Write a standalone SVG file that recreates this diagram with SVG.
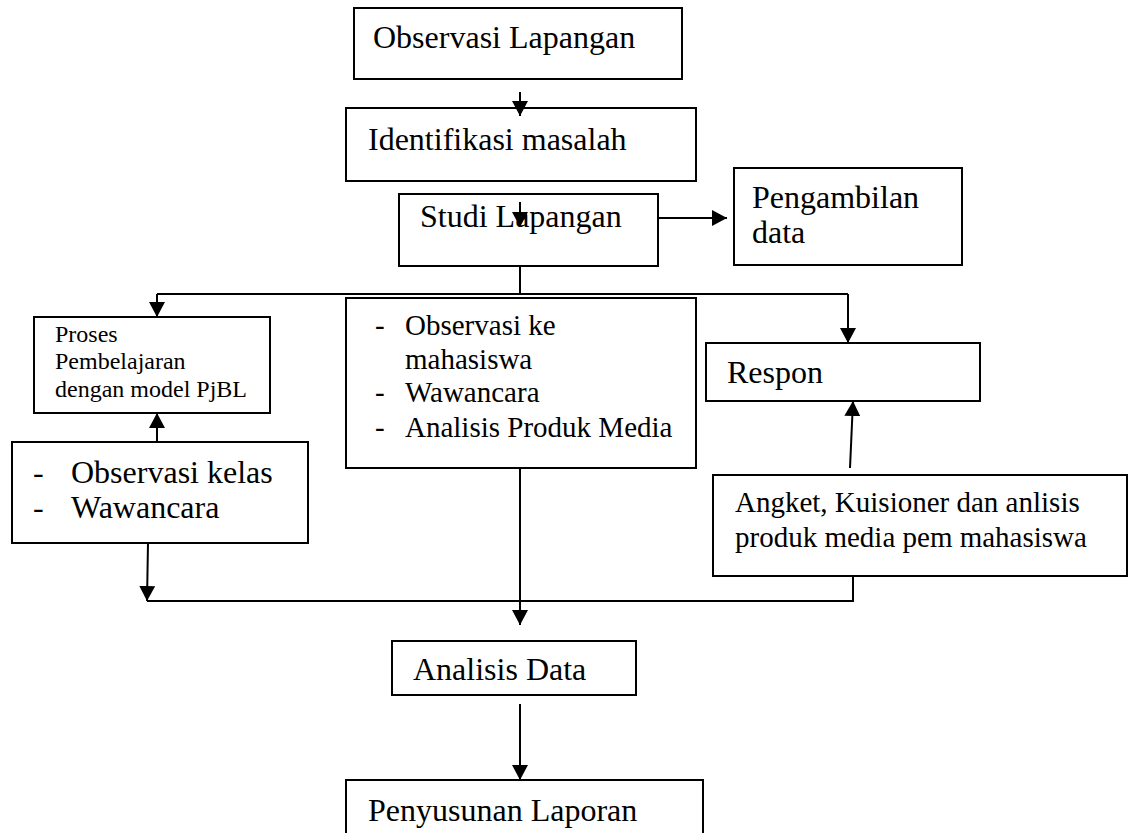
<svg xmlns="http://www.w3.org/2000/svg" width="1132" height="833" viewBox="0 0 1132 833">
<style>
.box{fill:#fff;stroke:#000;stroke-width:2}
.t{font-family:"Liberation Serif","Times New Roman",serif;fill:#000}
.l{font-size:32px}
.m{font-size:29px}
.s{font-size:24px}
.c{fill:none;stroke:#000;stroke-width:2}
</style>
<defs>
<marker id="ah" markerUnits="userSpaceOnUse" markerWidth="16" markerHeight="18" refX="15" refY="8" orient="auto">
<path d="M0,0 L15,8 L0,16 z" fill="#000"/>
</marker>
</defs>
<rect width="1132" height="833" fill="#fff"/>
<g id="n1"><rect class="box" x="354" y="8" width="328" height="71"/><text class="t l" x="373" y="48">Observasi Lapangan</text></g>
<g id="n2"><rect class="box" x="346" y="108" width="350" height="73"/><text class="t l" x="368" y="150">Identifikasi masalah</text></g>
<g id="n3"><rect class="box" x="399" y="194" width="259" height="72"/><text class="t l" x="420" y="227">Studi Lapangan</text></g>
<g id="n4"><rect class="box" x="734" y="168" width="228" height="97"/><text class="t l" x="752" y="208">Pengambilan</text><text class="t l" x="752" y="243">data</text></g>
<g id="n5"><rect class="box" x="34" y="317" width="236" height="96"/><text class="t s" x="55" y="342">Proses</text><text class="t s" x="55" y="369">Pembelajaran</text><text class="t s" x="55" y="397">dengan model PjBL</text></g>
<g id="n6"><rect class="box" x="346" y="298" width="350" height="170"/>
<text class="t m" x="375" y="335">-</text><text class="t m" x="405" y="335">Observasi ke</text>
<text class="t m" x="405" y="369">mahasiswa</text>
<text class="t m" x="375" y="402">-</text><text class="t m" x="405" y="402">Wawancara</text>
<text class="t m" x="375" y="437">-</text><text class="t m" x="405" y="437">Analisis Produk Media</text></g>
<g id="n7"><rect class="box" x="706" y="343" width="274" height="58"/><text class="t l" x="727" y="383">Respon</text></g>
<g id="n8"><rect class="box" x="12" y="442" width="296" height="101"/>
<text class="t l" x="33" y="483">-</text><text class="t l" x="71" y="483">Observasi kelas</text>
<text class="t l" x="33" y="518">-</text><text class="t l" x="71" y="518">Wawancara</text></g>
<g id="n9"><rect class="box" x="713" y="475" width="414" height="101"/><text class="t m" x="735" y="512">Angket, Kuisioner dan anlisis</text><text class="t m" x="735" y="547">produk media pem mahasiswa</text></g>
<g id="n10"><rect class="box" x="392" y="641" width="244" height="54"/><text class="t l" x="413" y="680">Analisis Data</text></g>
<g id="n11"><path class="c" d="M346,840 V780 H703 V840"/><text class="t l" x="368" y="821">Penyusunan Laporan</text></g>
<g id="connectors">
<line class="c" x1="520" y1="92" x2="520" y2="116" marker-end="url(#ah)"/>
<line class="c" x1="520" y1="202" x2="520" y2="227" marker-end="url(#ah)"/>
<line class="c" x1="658" y1="218" x2="727" y2="218" marker-end="url(#ah)"/>
<line class="c" x1="520" y1="266" x2="520" y2="294"/>
<line class="c" x1="157" y1="294" x2="848" y2="294"/>
<line class="c" x1="157" y1="294" x2="157" y2="317" marker-end="url(#ah)"/>
<line class="c" x1="848" y1="294" x2="848" y2="343" marker-end="url(#ah)"/>
<line class="c" x1="157" y1="442" x2="157" y2="413" marker-end="url(#ah)"/>
<line class="c" x1="850" y1="468" x2="853" y2="401" marker-end="url(#ah)"/>
<line class="c" x1="148" y1="543" x2="147" y2="601" marker-end="url(#ah)"/>
<line class="c" x1="147" y1="601" x2="854" y2="601"/>
<line class="c" x1="853" y1="576" x2="853" y2="601"/>
<line class="c" x1="520" y1="468" x2="520" y2="625" marker-end="url(#ah)"/>
<line class="c" x1="520" y1="704" x2="520" y2="780" marker-end="url(#ah)"/>
</g>
</svg>
